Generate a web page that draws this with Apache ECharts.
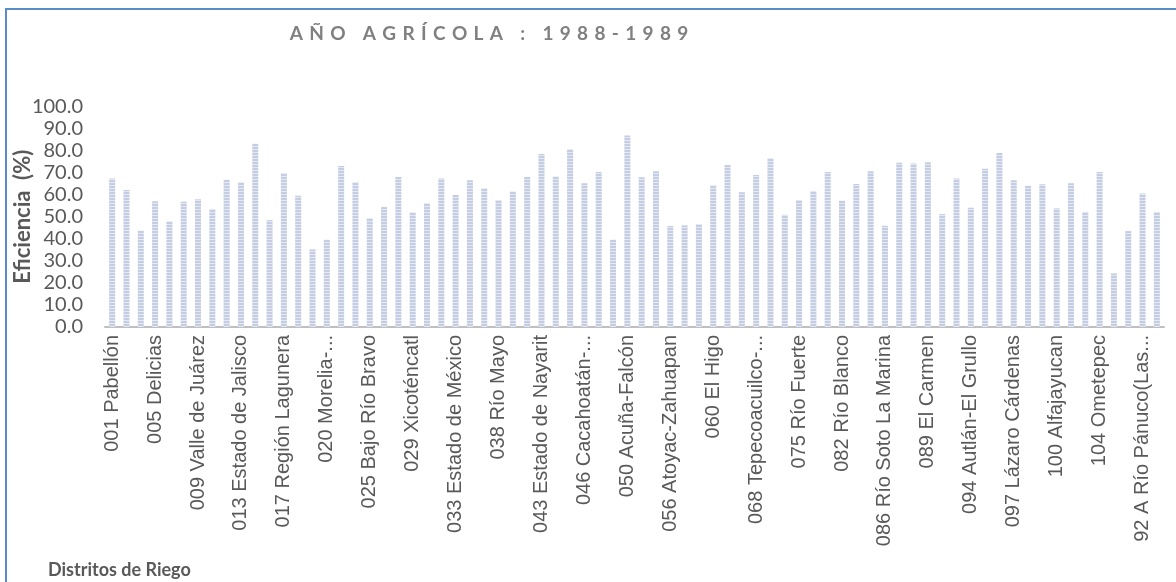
<!DOCTYPE html>
<html>
<head>
<meta charset="utf-8">
<script src="https://cdn.jsdelivr.net/npm/echarts@6/dist/echarts.min.js"></script>
<style>
  html, body { margin: 0; padding: 0; background: #fff; }
  #chart { width: 1176px; height: 582px; }
</style>
</head>
<body>
<div id="chart"></div>
<script>
const TITLE = 'AÑO AGRÍCOLA : 1988-1989';
const Y_NAME = 'Eficiencia  (%)';
const X_NAME = 'Distritos de Riego';

const districts = [
  '001 Pabellón', '003 Tula', '004 Don Martín',
  '005 Delicias', '006 Palestina', '008 Metztitlán',
  '009 Valle de Juárez', '010 Culiacán-Humaya', '011 Alto Río Lerma',
  '013 Estado de Jalisco', '014 Río Colorado', '016 Estado de Morelos',
  '017 Región Lagunera', '018 Colonias Yaquis', '019 Tehuantepec',
  '020 Morelia-...', '023 San Juan del Río', '024 Ciénega de Chapala',
  '025 Bajo Río Bravo', '026 Bajo Río San Juan', '028 Tulancingo',
  '029 Xicoténcatl', '030 Valsequillo', '031 Las Lajas',
  '033 Estado de México', '034 Estado de Zacatecas', '035 La Antigua',
  '038 Río Mayo', '041 Río Yaqui', '042 Buenaventura',
  '043 Estado de Nayarit', '044 Jilotepec', '045 Tuxpan',
  '046 Cacahoatán-...', '048 Ticul', '049 Río Verde',
  '050 Acuña-Falcón', '051 Costa de Hermosillo', '052 Estado de Durango',
  '056 Atoyac-Zahuapan', '057 Amuco-Cutzamala', '059 Río Blanco',
  '060 El Higo', '061 Zamora', '063 Guasave',
  '068 Tepecoacuilco-...', '073 La Concepción', '074 Mocorito',
  '075 Río Fuerte', '076 Valle del Carrizo', '081 Estado de Campeche',
  '082 Río Blanco', '083 Papigochic', '085 La Begoña',
  '086 Río Soto La Marina', '087 Rosario-Mezquite', '088 Chiconautla',
  '089 El Carmen', '090 Bajo Río Conchos', '093 Tomatlán',
  '094 Autlán-El Grullo', '095 Atoyac', '096 Arroyozarco',
  '097 Lázaro Cárdenas', '098 José María Morelos', '099 Quitupan-La Magdalena',
  '100 Alfajayucan', '101 Cuxtepeques', '103 Río Florido',
  '104 Ometepec', '105 Nexapa', '107 San Gregorio',
  '92 A Río Pánuco(Las...', '92 B Río Pánuco'
];

const efficiency = [
  67.3, 62.1, 43.7, 57.0, 47.9, 56.8, 57.9, 53.5, 66.8, 65.6,
  83.1, 48.5, 69.7, 59.5, 35.2, 39.6, 73.0, 65.6, 49.4, 54.4,
  68.0, 52.0, 56.2, 67.4, 59.9, 66.5, 62.9, 57.6, 61.5, 68.0,
  78.5, 68.2, 80.6, 65.2, 70.3, 39.6, 86.8, 67.9, 70.6, 45.8,
  46.1, 46.7, 64.3, 73.5, 61.1, 68.9, 76.5, 50.9, 57.6, 61.7,
  70.3, 57.3, 64.9, 70.6, 45.9, 74.5, 74.2, 74.7, 51.2, 67.4,
  54.1, 71.8, 78.9, 66.5, 64.1, 64.7, 53.8, 65.2, 52.2, 70.3,
  24.3, 43.5, 60.6, 52.2
];

const yTicks = { min: 0, max: 100, interval: 10 };

// striped fill like the reference bars
const pat = document.createElement('canvas');
pat.width = 4; pat.height = 3;
const pctx = pat.getContext('2d');
pctx.fillStyle = '#c4cde2'; pctx.fillRect(0, 0, 4, 3);
pctx.fillStyle = '#e4e8f2'; pctx.fillRect(0, 2, 4, 1);

// letter-spaced title (same characters, spaced out)
const spacedTitle = TITLE.split('').join('\u2004');

const chart = echarts.init(document.getElementById('chart'), null, { renderer: 'canvas' });
chart.setOption({
  animation: false,
  backgroundColor: '#ffffff',
  title: [
    {
      text: spacedTitle,
      left: 484, top: 19, textAlign: 'center',
      textStyle: { fontFamily: 'Lato', fontWeight: 'bold', fontSize: 19, color: '#808080' }
    },
    {
      text: X_NAME,
      left: 43, top: 556,
      textStyle: { fontFamily: 'Lato', fontWeight: 'bold', fontSize: 18, color: '#595959' }
    }
  ],
  graphic: [
    {
      type: 'rect', silent: true, z: 100,
      shape: { x: 6, y: 9, width: 1400, height: 800 },
      style: { fill: 'none', stroke: '#5b8bc9', lineWidth: 2 }
    }
  ],
  grid: { left: 105, right: 12, top: 106.5, bottom: 255, containLabel: false, outerBoundsMode: 'none' },
  xAxis: {
    type: 'category',
    data: districts,
    axisLine: { show: true, lineStyle: { color: '#bfbfbf', width: 2 } },
    axisTick: { show: false },
    axisLabel: {
      interval: 2, rotate: 90, margin: 8,
      fontFamily: 'Liberation Sans', fontSize: 20, color: '#595959'
    }
  },
  yAxis: {
    type: 'value',
    min: yTicks.min, max: yTicks.max, interval: yTicks.interval,
    name: Y_NAME, nameLocation: 'middle', nameRotate: 90, nameGap: 71,
    nameMoveOverlap: false,
    nameTextStyle: { fontFamily: 'Lato', fontWeight: 'bold', fontSize: 22, color: '#595959' },
    axisLine: { show: false },
    axisTick: { show: false },
    splitLine: { show: false },
    axisLabel: {
      margin: 22, fontFamily: 'Lato', fontSize: 20, color: '#595959',
      formatter: v => v.toFixed(1)
    }
  },
  series: [{
    type: 'bar',
    data: efficiency,
    barWidth: 6,
    itemStyle: { color: { image: pat, repeat: 'repeat' } }
  }]
});
</script>
</body>
</html>
